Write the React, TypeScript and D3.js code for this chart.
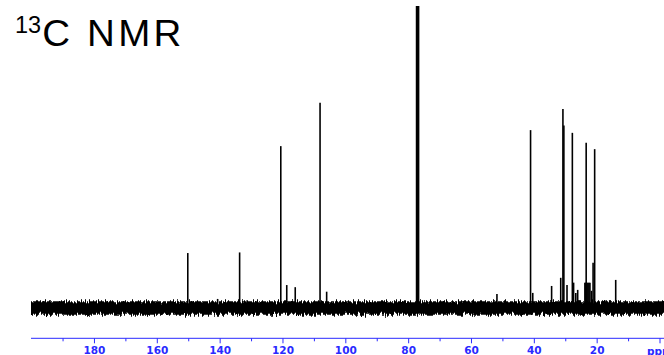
import React from "react";
import * as d3 from "d3";

// Peak positions (ppm) and heights (relative intensity, 100 = solvent triplet)
const peakPpm: number[] = [
  150.3, 140.8, 133.8, 131.4, 120.7, 118.8, 116.1, 108.2, 106.1,
  77.48, 77.16, 76.84,
  51.9, 41.2, 40.5, 34.5, 31.6, 30.9, 30.6, 29.6, 27.9, 27.5, 26.8, 26.2, 25.7,
  23.9, 23.7, 23.5, 23.2, 22.9, 22.6, 22.3, 21.8, 21.3, 20.8, 17.6, 16.0, 14.1,
];
const peakIntensity: number[] = [
  18.2, 3.0, 18.4, 2.6, 53.6, 7.6, 6.9, 68.0, 5.4,
  100, 100, 100,
  4.6, 58.9, 5.0, 7.3, 10.0, 65.9, 60.4, 7.6, 58.0, 8.4, 5.0, 6.0, 2.6,
  8.4, 8.4, 54.7, 8.4, 8.4, 8.4, 8.4, 5.7, 15.0, 52.6, 2.6, 2.6, 9.3,
];

const majorTicks: number[] = [180, 160, 140, 120, 100, 80, 60, 40, 20, 0];
const majorLabels: string[] = ["180", "160", "140", "120", "100", "80", "60", "40", "20", ""];
const minorTicks: number[] = [190, 170, 150, 130, 110, 90, 70, 50, 30, 10];
const axisUnit = "ppm";
const noiseLevel = 3.8; // half-width of the baseline noise band (intensity units)

const W = 664;
const H = 355;
const BLUE = "#2a2aff";
const FONT = "Arial, 'Liberation Sans', Helvetica, sans-serif";
const AXFONT = "'DejaVu Sans', Verdana, sans-serif";

export default function App() {
  const x = d3.scaleLinear().domain([200.2, -1.27]).range([31, 664]);
  const y = d3.scaleLinear().domain([0, 100]).range([308, 6]);
  const axisY = 338.3;

  const band = d3
    .area<number>()
    .x((d) => x(d))
    .y0(() => y(-noiseLevel * 0.5) + 1)
    .y1(() => y(noiseLevel * 0.5) - 1);

  return (
    <svg
      width={W}
      height={H}
      viewBox={`0 0 ${W} ${H}`}
      style={{ position: "absolute", left: 0, top: 0, background: "#fff" }}
    >
      <defs>
        <filter id="noise" x="-2%" y="-200%" width="104%" height="500%">
          <feTurbulence type="fractalNoise" baseFrequency="0.75 0.04" numOctaves={2} seed={7} result="t" />
          <feDisplacementMap in="SourceGraphic" in2="t" scale={9} xChannelSelector="R" yChannelSelector="G" />
        </filter>
      </defs>
      <rect x={0} y={0} width={W} height={H} fill="#fff" />

      {/* title */}
      <text x={15} y={32.7} fontFamily={FONT} fontSize={23.5} fill="#000">
        13
      </text>
      <text
        x={0}
        y={46.2}
        transform="translate(42.2,0) scale(1.07,1)"
        fontFamily={FONT}
        fontSize={36}
        letterSpacing={3}
        fill="#000"
      >
        C NMR
      </text>

      {/* baseline noise band */}
      <path d={band([200.2, -1.27]) || ""} fill="#000" filter="url(#noise)" />

      {/* peaks */}
      <g stroke="#000" strokeWidth={1.6}>
        {peakPpm.map((p, i) => (
          <line key={i} x1={x(p)} x2={x(p)} y1={y(0) + 2} y2={y(peakIntensity[i])} />
        ))}
      </g>

      {/* axis */}
      <line x1={31} x2={664} y1={axisY} y2={axisY} stroke={BLUE} strokeWidth={1} />
      <g stroke={BLUE} strokeWidth={1}>
        {majorTicks.map((t) => (
          <line key={"M" + t} x1={x(t)} x2={x(t)} y1={axisY} y2={axisY + 5} />
        ))}
        {minorTicks.map((t) => (
          <line key={"m" + t} x1={x(t)} x2={x(t)} y1={axisY} y2={axisY + 3} />
        ))}
      </g>
      <g fontFamily={AXFONT} fontSize={10.5} fontWeight="bold" fill={BLUE} textAnchor="middle">
        {majorTicks.map((t, i) =>
          majorLabels[i] ? (
            <text key={"l" + t} x={x(t)} y={354.3}>
              {majorLabels[i]}
            </text>
          ) : null
        )}
      </g>
      <text x={647} y={354.5} fontFamily={AXFONT} fontSize={10.5} fontWeight="bold" fill={BLUE}>
        {axisUnit}
      </text>
    </svg>
  );
}
